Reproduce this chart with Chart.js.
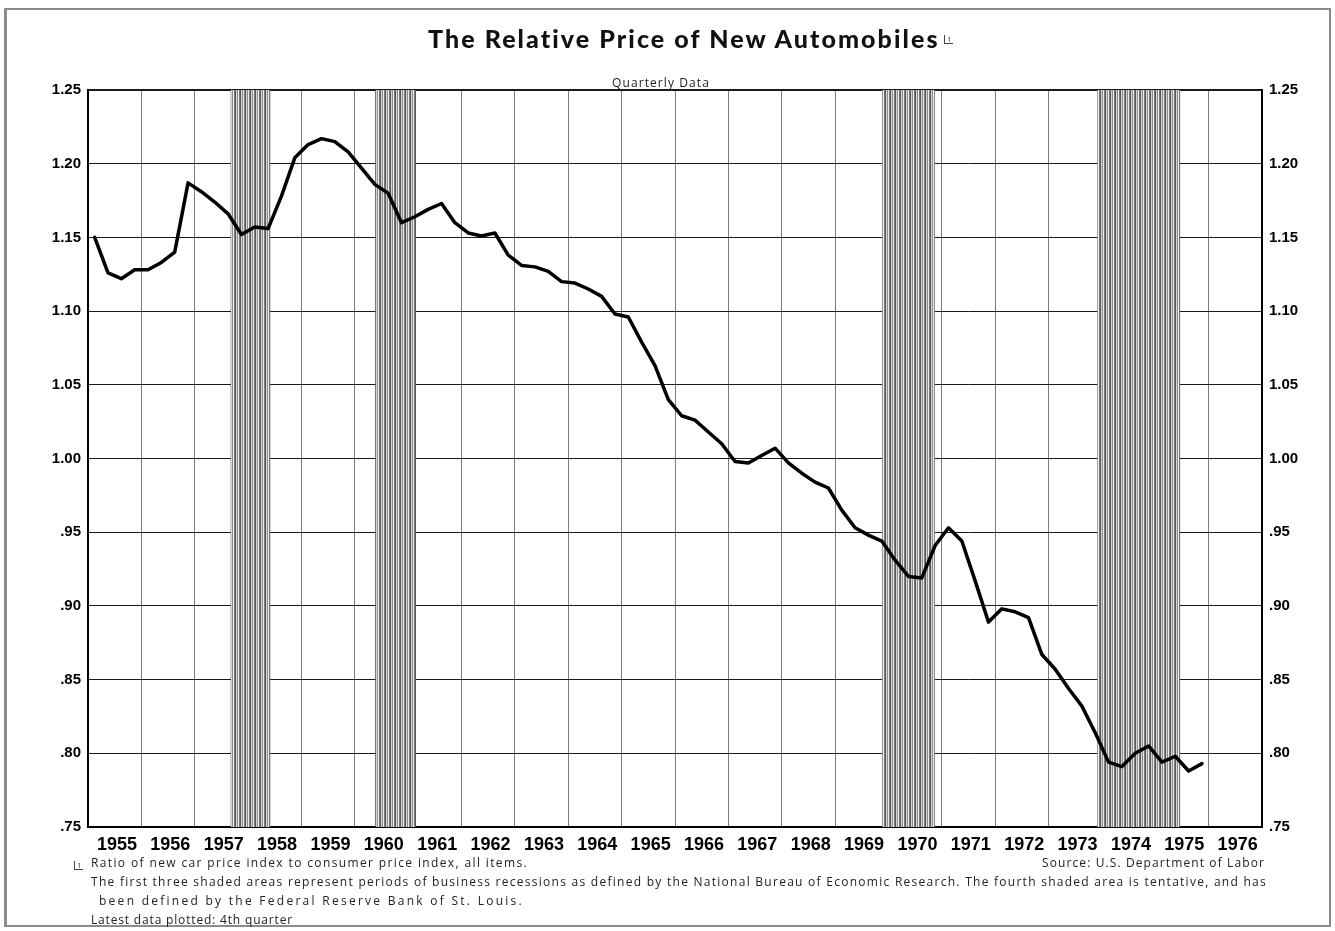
<!DOCTYPE html>
<html>
<head>
<meta charset="utf-8">
<script src="https://cdn.jsdelivr.net/npm/chart.js@4.4.1/dist/chart.umd.min.js"></script>
<style>
html,body{margin:0;padding:0;background:#fff;}
#wrap{position:relative;width:1335px;height:931px;overflow:hidden;background:#fff;}
#frame{position:absolute;left:4px;top:8px;width:1327px;height:919px;border:2px solid #8c8c8c;border-left-width:3px;box-sizing:border-box;}
#c{position:absolute;left:0;top:0;}
.t{position:absolute;white-space:nowrap;display:inline-block;line-height:1;color:#111;}
#title{font:900 25px 'Lato',sans-serif;}
#sub{font:12px 'Open Sans',sans-serif;color:#222;}
.fn{font:12px 'Open Sans',sans-serif;color:#222;}
.mk{display:inline-block;border-left:1px solid #444;border-bottom:1px solid #444;font:8px 'Open Sans',sans-serif;line-height:8px;padding:0 1px 0 2px;color:#444;}
</style>
</head>
<body>
<div id="wrap">
  <canvas id="c" width="1335" height="931"></canvas>
  <div id="frame"></div>
  <div class="t" id="title" style="left:428px;top:23px;" data-w="512">The Relative Price of New Automobiles</div>
  <div class="t" style="left:944px;top:29px;"><span class="mk">1</span></div>
  <div class="t" id="sub" style="left:612px;top:74px;" data-w="98">Quarterly Data</div>
  <div class="t" style="left:74px;top:855px;"><span class="mk">1</span></div>
  <div class="t fn" style="left:91px;top:854px;" data-w="437">Ratio of new car price index to consumer price index, all items.</div>
  <div class="t fn" style="left:1042px;top:854px;" data-w="223">Source: U.S. Department of Labor</div>
  <div class="t fn" style="left:91px;top:873px;" data-w="1176">The first three shaded areas represent periods of business recessions as defined by the National Bureau of Economic Research. The fourth shaded area is tentative, and has</div>
  <div class="t fn" style="left:99px;top:892px;" data-w="425">been defined by the Federal Reserve Bank of St. Louis.</div>
  <div class="t fn" style="left:91px;top:911px;" data-w="202">Latest data plotted: 4th quarter</div>
</div>
<script>
// ---- data ----
const startYear = 1955;
const years = [1955,1956,1957,1958,1959,1960,1961,1962,1963,1964,1965,1966,1967,1968,1969,1970,1971,1972,1973,1974,1975,1976];
const quarterlyRatio = [
  1.150,1.126,1.122,1.128,   // 1955
  1.128,1.133,1.140,1.187,   // 1956
  1.181,1.174,1.166,1.152,   // 1957
  1.157,1.156,1.178,1.204,   // 1958
  1.213,1.217,1.215,1.208,   // 1959
  1.197,1.186,1.180,1.160,   // 1960
  1.164,1.169,1.173,1.160,   // 1961
  1.153,1.151,1.153,1.138,   // 1962
  1.131,1.130,1.127,1.120,   // 1963
  1.119,1.115,1.110,1.098,   // 1964
  1.096,1.079,1.063,1.040,   // 1965
  1.029,1.026,1.018,1.010,   // 1966
  0.998,0.997,1.002,1.007,   // 1967
  0.997,0.990,0.984,0.980,   // 1968
  0.965,0.953,0.948,0.944,   // 1969
  0.931,0.920,0.919,0.941,   // 1970
  0.953,0.944,0.917,0.889,   // 1971
  0.898,0.896,0.892,0.867,   // 1972
  0.857,0.844,0.832,0.814,   // 1973
  0.794,0.791,0.800,0.805,   // 1974
  0.794,0.798,0.788,0.793    // 1975
];
const recessionStart = [1957.67, 1960.38, 1969.88, 1973.91];
const recessionEnd   = [1958.42, 1961.15, 1970.87, 1975.47];
const yMin = 0.75, yMax = 1.25, yStep = 0.05;

// ---- styling helpers ----
function stripePattern(){
  const p = document.createElement('canvas');
  p.width = 5; p.height = 4;
  const g = p.getContext('2d');
  const cols = ['#5a5a5a','#d4d4d4','#8e8e8e','#ececec','#7a7a7a'];
  cols.forEach((c,i)=>{ g.fillStyle=c; g.fillRect(i,0,1,4); });
  return g.createPattern(p,'repeat');
}
const pattern = stripePattern();

const lineData = quarterlyRatio.map((v,i)=>({x: startYear + (i+0.5)/4, y: v}));
const bandSets = recessionStart.map((s,k)=>({
  type:'line',
  data:[{x:s,y:yMax},{x:recessionEnd[k],y:yMax}],
  fill:'start',
  backgroundColor:pattern,
  borderWidth:0,
  pointRadius:0,
  order:2
}));

const tickFont = {family:"'Liberation Sans Narrow','Liberation Sans',Arial,sans-serif", weight:'bold', size:18};
const yFont = {family:"'Liberation Sans',Arial,sans-serif", weight:'bold', size:15};
function yLabel(v){
  const s = (Math.round(v*100)/100).toFixed(2);
  return v >= 1 ? s : s.slice(1);
}

new Chart(document.getElementById('c'), {
  type:'line',
  data:{
    datasets:[
      {data:lineData, borderColor:'#000', borderWidth:3.5, pointRadius:0, tension:0, fill:false, order:0, borderJoinStyle:'round', borderCapStyle:'round'},
      ...bandSets
    ]
  },
  options:{
    responsive:false,
    animation:false,
    devicePixelRatio:1,
    layout:{padding:{top:90,left:0,right:0,bottom:0}},
    plugins:{legend:{display:false},tooltip:{enabled:false},title:{display:false}},
    scales:{
      x:{
        type:'linear', min:startYear, max:startYear+years.length,
        afterBuildTicks:(ax)=>{ ax.ticks = years.concat([startYear+years.length]).map(v=>({value:v})); },
        afterFit:(ax)=>{ ax.height = 104; },
        grid:{color:'#7c7c7c', lineWidth:1, drawTicks:false},
        border:{display:true, color:'#000', width:2},
        ticks:{
          autoSkip:false, maxRotation:0, padding:7, labelOffset:29,
          color:'#000', font:tickFont,
          callback:(v)=> years.includes(v) ? String(v) : ''
        }
      },
      y:{
        position:'left', min:yMin, max:yMax,
        afterFit:(ax)=>{ ax.width = 88; },
        grid:{color:'#1a1a1a', lineWidth:(c)=> (c.tick && (Math.abs(c.tick.value-yMax)<1e-6)) ? 2 : 1, drawTicks:false},
        border:{display:true, color:'#000', width:2},
        ticks:{stepSize:yStep, padding:7, color:'#000', font:yFont, callback:yLabel}
      },
      y2:{
        position:'right', min:yMin, max:yMax,
        afterFit:(ax)=>{ ax.width = 1335-1262; },
        grid:{display:false, drawTicks:false},
        border:{display:true, color:'#000', width:2},
        ticks:{stepSize:yStep, padding:7, color:'#000', font:yFont, callback:yLabel}
      }
    }
  }
});

// fit text widths to the reference by letter-spacing
function fitTexts(){
  document.querySelectorAll('[data-w]').forEach(el=>{
    el.style.letterSpacing='0px';
    const w = el.getBoundingClientRect().width;
    const n = el.textContent.length;
    const target = parseFloat(el.dataset.w);
    el.style.letterSpacing = ((target - w)/n).toFixed(3)+'px';
  });
}
fitTexts();
if (document.fonts && document.fonts.ready) document.fonts.ready.then(fitTexts);
</script>
</body>
</html>
